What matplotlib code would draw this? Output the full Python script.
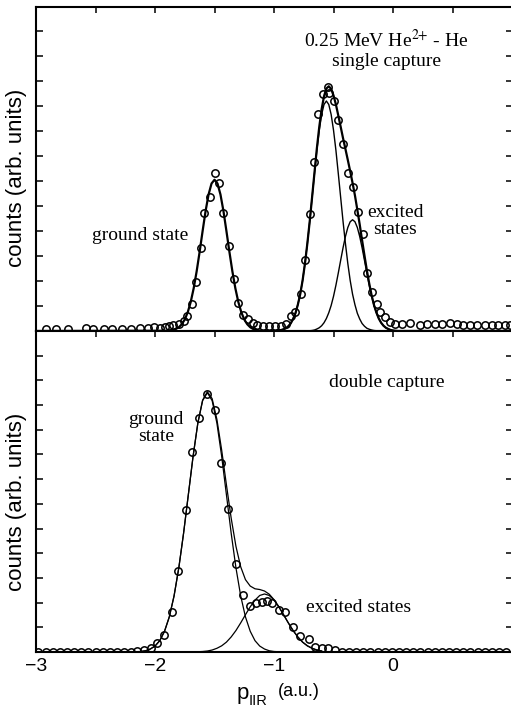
import numpy as np
import matplotlib
matplotlib.use("Agg")
import matplotlib.pyplot as plt
from matplotlib.ticker import MultipleLocator

plt.rcParams['font.family'] = ['Liberation Sans', 'DejaVu Sans']
plt.rcParams['mathtext.fontset'] = 'stix'

W, H = 511, 710

# ---- top panel: single capture ----
top_pts_x = [-2.92, -2.83, -2.73, -2.58, -2.52, -2.43, -2.36, -2.28, -2.20, -2.13,
             -2.06, -2.01, -1.96, -1.92, -1.88, -1.85, -1.80, -1.76, -1.73, -1.69,
             -1.655, -1.616, -1.586, -1.538, -1.50, -1.46, -1.426, -1.378, -1.336, -1.30,
             -1.258, -1.216, -1.18, -1.14, -1.09, -1.04, -0.99, -0.94, -0.90, -0.86,
             -0.824, -0.776, -0.74, -0.697, -0.664, -0.628, -0.586, -0.544, -0.535, -0.50,
             -0.46, -0.418, -0.376, -0.339, -0.292, -0.255, -0.216, -0.179, -0.137, -0.109,
             -0.067, -0.025, 0.017, 0.073, 0.143, 0.227, 0.283, 0.353, 0.409, 0.479,
             0.535, 0.591, 0.647, 0.703, 0.773, 0.829, 0.885, 0.941, 0.983]
top_pts_y = [0.10, 0.10, 0.10, 0.12, 0.08, 0.10, 0.10, 0.10, 0.10, 0.12,
             0.12, 0.15, 0.12, 0.15, 0.20, 0.24, 0.28, 0.41, 0.60, 1.08,
             1.95, 3.31, 4.73, 5.35, 6.33, 5.93, 4.73, 3.40, 2.07, 1.13,
             0.64, 0.47, 0.33, 0.24, 0.20, 0.22, 0.20, 0.22, 0.30, 0.60,
             0.77, 1.50, 2.84, 4.67, 6.77, 8.70, 9.48, 9.75, 9.53, 9.21,
             8.44, 7.48, 6.33, 5.77, 4.77, 3.88, 2.31, 1.57, 1.10, 0.77,
             0.57, 0.37, 0.30, 0.30, 0.33, 0.24, 0.28, 0.28, 0.30, 0.33,
             0.28, 0.24, 0.24, 0.24, 0.24, 0.24, 0.24, 0.24, 0.24]

top_gs_x = np.arange(33) * 0.025 - 1.9
top_gs_fit = [0.01, 0.02, 0.04, 0.08, 0.15, 0.27, 0.46, 0.75, 1.16, 1.71, 2.39, 3.17,
              4.00, 4.80, 5.46, 5.90, 6.05, 5.90, 5.46, 4.80, 4.00, 3.17, 2.39, 1.71,
              1.16, 0.75, 0.46, 0.27, 0.15, 0.08, 0.04, 0.02, 0.01]

top_es_x = np.arange(56) * 0.02 - 1.0
top_main_fit = [0.00, 0.01, 0.02, 0.04, 0.07, 0.11, 0.19, 0.30, 0.48, 0.71, 1.05, 1.47,
                2.02, 2.70, 3.50, 4.38, 5.34, 6.30, 7.23, 8.03, 8.66, 9.06, 9.20, 9.06,
                8.66, 8.03, 7.23, 6.30, 5.34, 4.38, 3.50, 2.70, 2.02, 1.47, 1.05, 0.71,
                0.48, 0.30, 0.19, 0.11, 0.07, 0.04, 0.02, 0.01, 0.00, 0.00, 0.00, 0.00,
                0.00, 0.00, 0.00, 0.00, 0.00, 0.00, 0.00, 0.00]
top_exc_fit = [0.00, 0.00, 0.00, 0.00, 0.00, 0.00, 0.00, 0.00, 0.00, 0.00, 0.00, 0.00,
               0.00, 0.00, 0.00, 0.01, 0.02, 0.04, 0.08, 0.13, 0.21, 0.33, 0.50, 0.73,
               1.02, 1.39, 1.83, 2.32, 2.83, 3.33, 3.78, 4.14, 4.37, 4.45, 4.37, 4.14,
               3.78, 3.33, 2.83, 2.32, 1.83, 1.39, 1.02, 0.73, 0.50, 0.33, 0.21, 0.13,
               0.08, 0.04, 0.02, 0.01, 0.00, 0.00, 0.00, 0.00]

# ---- bottom panel: double capture ----
bot_pts_x = [-2.98, -2.92, -2.86, -2.80, -2.74, -2.68, -2.62, -2.56, -2.50, -2.44,
             -2.38, -2.32, -2.26, -2.20, -2.15, -2.09, -2.036, -1.98, -1.922, -1.855,
             -1.804, -1.742, -1.686, -1.628, -1.566, -1.496, -1.445, -1.384, -1.322, -1.258,
             -1.20, -1.15, -1.10, -1.06, -1.02, -0.955, -0.908, -0.843, -0.78, -0.71,
             -0.655, -0.599, -0.544, -0.487, -0.43, -0.37, -0.31, -0.25, -0.19, -0.13,
             -0.07, -0.01, 0.05, 0.11, 0.17, 0.23, 0.29, 0.35, 0.41, 0.47,
             0.53, 0.59, 0.65, 0.71, 0.77, 0.83, 0.89, 0.95]
bot_pts_y = [0.0, 0.0, 0.0, 0.0, 0.0, 0.0, 0.0, 0.0, 0.0, 0.0,
             0.0, 0.0, 0.0, 0.0, 0.05, 0.08, 0.15, 0.35, 0.69, 1.63,
             3.29, 5.75, 8.11, 9.46, 10.45, 9.80, 7.66, 5.79, 3.56, 2.31,
             1.86, 1.97, 2.04, 2.08, 2.00, 1.70, 1.63, 1.02, 0.65, 0.51,
             0.21, 0.17, 0.15, 0.08, 0.0, 0.0, 0.0, 0.0, 0.0, 0.0,
             0.0, 0.0, 0.0, 0.0, 0.0, 0.0, 0.0, 0.0, 0.0, 0.0,
             0.0, 0.0, 0.0, 0.0, 0.0, 0.0, 0.0, 0.0]

bot_fit_x = np.arange(41) * 0.04 - 2.2
bot_gs_fit = [0.00, 0.01, 0.02, 0.05, 0.12, 0.24, 0.46, 0.84, 1.42, 2.27, 3.41, 4.81,
              6.37, 7.93, 9.27, 10.18, 10.50, 10.18, 9.27, 7.93, 6.37, 4.81, 3.41, 2.27,
              1.42, 0.84, 0.46, 0.24, 0.12, 0.05, 0.02, 0.01, 0.00, 0.00, 0.00, 0.00,
              0.00, 0.00, 0.00, 0.00, 0.00]
bot_exc_fit = [0.00, 0.00, 0.00, 0.00, 0.00, 0.00, 0.00, 0.00, 0.00, 0.00, 0.00, 0.00,
               0.00, 0.00, 0.01, 0.02, 0.04, 0.08, 0.15, 0.25, 0.40, 0.61, 0.87, 1.18,
               1.51, 1.83, 2.10, 2.29, 2.35, 2.29, 2.10, 1.83, 1.51, 1.18, 0.87, 0.61,
               0.40, 0.25, 0.15, 0.08, 0.04]


def px(x, y):
    return x / W, 1 - y / H


fig = plt.figure(figsize=(W / 100, H / 100), dpi=100)
left = 36 / W
width = (513 - 36) / W
ax1 = fig.add_axes([left, 1 - 331 / H, width, 324 / H])
ax2 = fig.add_axes([left, 1 - 652 / H, width, 321 / H])

mk = dict(marker='o', ms=5.3, mfc='none', mec='black', mew=1.1, ls='none')

# top: data, components, total fit (runs along the baseline end to end)
top_total = np.array(top_main_fit) + np.array(top_exc_fit)
tot_x = np.concatenate(([-3.0], top_gs_x, top_es_x, [1.1]))
tot_y = np.concatenate(([0.0], top_gs_fit, top_total, [0.0]))
ax1.plot(top_pts_x, top_pts_y, **mk)
ax1.plot(top_es_x, top_main_fit, color='black', lw=1.0)
ax1.plot(top_es_x, top_exc_fit, color='black', lw=1.0)
ax1.plot(tot_x, tot_y, color='black', lw=1.6)

ax2.plot(bot_pts_x, bot_pts_y, **mk)
ax2.plot(bot_fit_x, bot_gs_fit, color='black', lw=0.9)
ax2.plot(bot_fit_x, bot_exc_fit, color='black', lw=0.9)
ax2.plot(bot_fit_x, np.array(bot_gs_fit) + np.array(bot_exc_fit), color='black', lw=0.9)

ax1.set_ylim(0, 12.96)
ax2.set_ylim(0, 13.0)
for ax in (ax1, ax2):
    ax.set_xlim(-3, 1.008)
    ax.xaxis.set_major_locator(MultipleLocator(1))
    ax.xaxis.set_minor_locator(MultipleLocator(0.5))
    ax.yaxis.set_major_locator(MultipleLocator(1))
    for s in ax.spines.values():
        s.set_linewidth(1.5)
    ax.tick_params(which='both', direction='in', left=True, right=True,
                   labelleft=False, length=5, width=1.1)
    ax.tick_params(axis='x', which='both', top=True, bottom=False, length=4.5)

ax1.tick_params(axis='x', labelbottom=False)
ax2.set_xticks([-3, -2, -1, 0])
ax2.tick_params(axis='x', which='major', labelbottom=True, labelsize=14, pad=4)

serif = dict(family=['Liberation Serif', 'DejaVu Serif'], fontsize=14,
             ha='center', va='center')
fig.text(*px(386, 40), r'0.25 MeV He$^{2\mathsf{+}}$ - He', **serif)
fig.text(*px(386, 62), 'single capture', **serif)
fig.text(*px(395, 221), 'excited\nstates', linespacing=1.05, **serif)
fig.text(*px(140, 235), 'ground state', **serif)
fig.text(*px(387, 383), 'double capture', **serif)
fig.text(*px(156, 428), 'ground\nstate', linespacing=1.05, **serif)
fig.text(*px(359, 607), 'excited states', **serif)

for yc in (178, 502):
    fig.text(*px(17, yc), 'counts (arb. units)', rotation=90, fontsize=16,
             ha='center', va='center')

fig.text(*px(243, 694), 'p', fontsize=16, ha='center', va='center')
fig.text(*px(258, 701), 'IIR', fontsize=10.5, ha='center', va='center')
fig.text(*px(299, 692), '(a.u.)', fontsize=13, ha='center', va='center')

fig.savefig('out.png', dpi=100)
